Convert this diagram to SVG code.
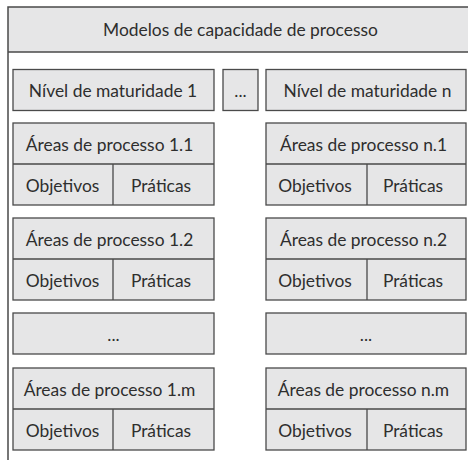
<svg xmlns="http://www.w3.org/2000/svg" width="468" height="460" viewBox="0 0 468 460">
<style>
.box{fill:#e6e6e7;stroke:#4a4a4a;stroke-width:1.3}
.ln{stroke:#4a4a4a;stroke-width:1.3;fill:none}
.frame{stroke:#4a4a4a;stroke-width:1.5;fill:none}
text{font-family:Lato,"Open Sans",sans-serif;font-size:17.4px;fill:#2e2e2e;text-anchor:middle}
</style>
<rect width="468" height="460" fill="#fff"/>
<g id="header">
<rect x="8" y="7" width="462" height="45" fill="#e6e6e7"/>
<path class="frame" d="M8,460V7H470M8,52H470"/>
<text x="240.5" y="36">Modelos de capacidade de processo</text>
</g>
<g id="nivel1"><rect class="box" x="13" y="69.5" width="201" height="41"/><text x="113" y="97">Nível de maturidade 1</text></g>
<g id="nivelDots"><rect class="box" x="223" y="69.5" width="35" height="41"/><text x="240.5" y="97">...</text></g>
<g id="niveln"><rect class="box" x="266" y="69.5" width="200" height="41"/><text x="367.5" y="97">Nível de maturidade n</text></g>

<g id="ap11"><rect class="box" x="13" y="123" width="201" height="82"/><path class="ln" d="M13,164H214M113,164V205"/><text x="109.5" y="151">Áreas de processo 1.1</text><text x="62.5" y="192">Objetivos</text><text x="161" y="192">Práticas</text></g>
<g id="apn1"><rect class="box" x="266" y="123" width="200" height="82"/><path class="ln" d="M266,164H466M367,164V205"/><text x="363.5" y="151">Áreas de processo n.1</text><text x="315" y="192">Objetivos</text><text x="413" y="192">Práticas</text></g>

<g id="ap12"><rect class="box" x="13" y="218" width="201" height="82"/><path class="ln" d="M13,259H214M113,259V300"/><text x="109.5" y="246">Áreas de processo 1.2</text><text x="62.5" y="287">Objetivos</text><text x="161" y="287">Práticas</text></g>
<g id="apn2"><rect class="box" x="266" y="218" width="200" height="82"/><path class="ln" d="M266,259H466M367,259V300"/><text x="363.5" y="246">Áreas de processo n.2</text><text x="315" y="287">Objetivos</text><text x="413" y="287">Práticas</text></g>

<g id="dots1"><rect class="box" x="13" y="313" width="201" height="41"/><text x="113.5" y="341">...</text></g>
<g id="dotsn"><rect class="box" x="266" y="313" width="200" height="41"/><text x="366" y="341">...</text></g>

<g id="ap1m"><rect class="box" x="13" y="368" width="201" height="82"/><path class="ln" d="M13,409H214M113,409V450"/><text x="109.5" y="396">Áreas de processo 1.m</text><text x="62.5" y="437">Objetivos</text><text x="161" y="437">Práticas</text></g>
<g id="apnm"><rect class="box" x="266" y="368" width="200" height="82"/><path class="ln" d="M266,409H466M367,409V450"/><text x="363.5" y="396">Áreas de processo n.m</text><text x="315" y="437">Objetivos</text><text x="413" y="437">Práticas</text></g>
</svg>
